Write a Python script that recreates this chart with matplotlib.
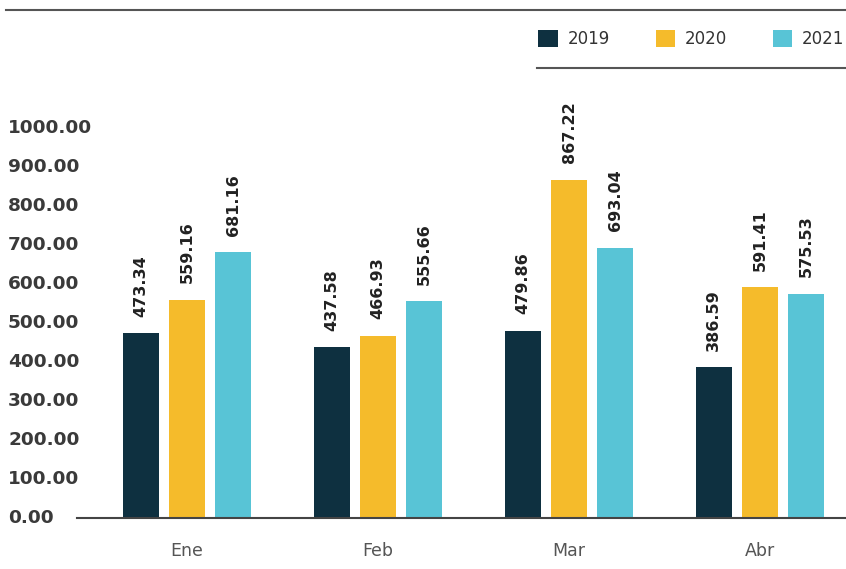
import numpy as np
import matplotlib.pyplot as plt
from matplotlib.lines import Line2D
from matplotlib.patches import Patch
import matplotlib.transforms as mtransforms

months = ['Ene', 'Feb', 'Mar', 'Abr']
years = ['2019', '2020', '2021']
v2019 = [473.34, 437.58, 479.86, 386.59]
v2020 = [559.16, 466.93, 867.22, 591.41]
v2021 = [681.16, 555.66, 693.04, 575.53]
yticks = [0, 100, 200, 300, 400, 500, 600, 700, 800, 900, 1000]

colors = ['#0e3040', '#f5bb2b', '#58c4d6']

fig = plt.figure(figsize=(8.46, 5.69), dpi=100)
ax = fig.add_axes([77 / 846, 51 / 569, 769 / 846, 390 / 569])

x = np.arange(len(months))
width = 0.188
offset = 0.243
for k, vals in enumerate([v2019, v2020, v2021]):
    pos = x + (k - 1) * offset
    ax.bar(pos, vals, width, color=colors[k], zorder=2)
    for px, v in zip(pos, vals):
        ax.annotate(f'{v:.2f}', (px, v), xytext=(0, 12), textcoords='offset points',
                    rotation=90, ha='center', va='bottom', fontsize=11.5,
                    fontweight='semibold', color='#222222', annotation_clip=False)

ax.set_xlim(-0.576, -0.576 + 769 / 191)
ax.set_ylim(0, 1000)

for s in ['top', 'right', 'left']:
    ax.spines[s].set_visible(False)
ax.spines['bottom'].set_color('#444444')
ax.spines['bottom'].set_linewidth(1.5)

ax.set_xticks(x)
ax.set_xticklabels(months, fontsize=12.5, color='#555555')
ax.tick_params(axis='x', length=0, pad=17)
ax.set_yticks([])

# y labels left-aligned at figure edge
trans = mtransforms.blended_transform_factory(fig.transFigure, ax.transData)
for t in yticks:
    ax.text(8 / 846, t, f'{t:.2f}', transform=trans, ha='left', va='center',
            fontsize=13.3, fontweight='bold', color='#3a3a3a')

# legend
handles = [Patch(facecolor=c, label=y) for c, y in zip(colors, years)]
fig.legend(handles=handles, loc='center right', bbox_to_anchor=(1.016, 0.931),
           ncol=3, frameon=False, fontsize=12, handlelength=1.15, handleheight=1.15,
           handletextpad=0.6, columnspacing=2.75, labelcolor='#333333')

# decorative lines
fig.add_artist(Line2D([6 / 846, 1], [0.982, 0.982], color='#555555', lw=1.5))
fig.add_artist(Line2D([537 / 846, 1], [0.880, 0.880], color='#555555', lw=1.5))

fig.savefig('out.png', dpi=100)
